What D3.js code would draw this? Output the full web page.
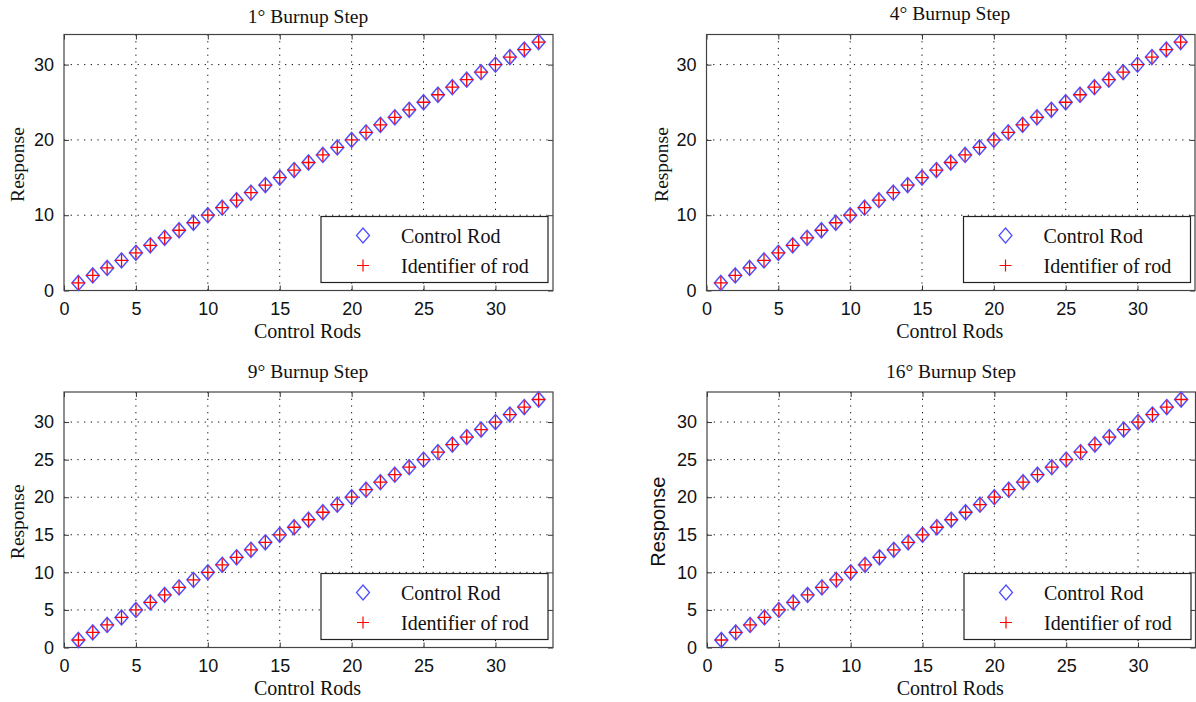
<!DOCTYPE html>
<html><head><meta charset="utf-8">
<script src="https://cdn.jsdelivr.net/npm/d3@7/dist/d3.min.js"></script>
<style>body{margin:0;background:#fff}svg{display:block}</style>
</head><body>
<svg id="c" width="1196" height="702"></svg>
<script>
const rods = d3.range(1, 34); // control rod indices 1..33
const titles = ["1° Burnup Step", "4° Burnup Step", "9° Burnup Step", "16° Burnup Step"];
const controlRod = [
  [1,2,3,4,5,6,7,8,9,10,11,12,13,14,15,16,17,18,19,20,21,22,23,24,25,26,27,28,29,30,31,32,33],
  [1,2,3,4,5,6,7,8,9,10,11,12,13,14,15,16,17,18,19,20,21,22,23,24,25,26,27,28,29,30,31,32,33],
  [1,2,3,4,5,6,7,8,9,10,11,12,13,14,15,16,17,18,19,20,21,22,23,24,25,26,27,28,29,30,31,32,33],
  [1,2,3,4,5,6,7,8,9,10,11,12,13,14,15,16,17,18,19,20,21,22,23,24,25,26,27,28,29,30,31,32,33]
];
const identifier = [
  [1,2,3,4,5,6,7,8,9,10,11,12,13,14,15,16,17,18,19,20,21,22,23,24,25,26,27,28,29,30,31,32,33],
  [1,2,3,4,5,6,7,8,9,10,11,12,13,14,15,16,17,18,19,20,21,22,23,24,25,26,27,28,29,30,31,32,33],
  [1,2,3,4,5,6,7,8,9,10,11,12,13,14,15,16,17,18,19,20,21,22,23,24,25,26,27,28,29,30,31,32,33],
  [1,2,3,4,5,6,7,8,9,10,11,12,13,14,15,16,17,18,19,20,21,22,23,24,25,26,27,28,29,30,31,32,33]
];
const xTicks = [0,5,10,15,20,25,30];
const yTicksTop = [0,10,20,30];
const yTicksBottom = [0,5,10,15,20,25,30];
const legendLabels = ["Control Rod", "Identifier of rod"];

const serif = "'Liberation Serif','Times New Roman',serif";
const sans = "'Liberation Sans',Arial,sans-serif";

const panels = [
  {x0:64, x1:553, y0:34.5, y1:290.5, yt:yTicksTop, tx:308, ty:23, yl:18, ylf:serif, yls:19.5},
  {x0:706.5, x1:1195, y0:34.5, y1:290.5, yt:yTicksTop, tx:950, ty:20, yl:662, ylf:serif, yls:19.5},
  {x0:64, x1:553, y0:392, y1:647.5, yt:yTicksBottom, tx:308, ty:378, yl:18, ylf:serif, yls:19.5},
  {x0:707, x1:1195.5, y0:392, y1:647.5, yt:yTicksBottom, tx:951, ty:378, yl:659, ylf:sans, yls:20}
];

const svg = d3.select("#c");

panels.forEach((p, i) => {
  const x = d3.scaleLinear().domain([0,34]).range([p.x0, p.x1]);
  const y = d3.scaleLinear().domain([0,34]).range([p.y1, p.y0]);
  const g = svg.append("g");

  // grid
  g.selectAll(".gx").data(xTicks.filter(t => t > 0)).enter().append("line")
    .attr("x1", d => x(d)).attr("x2", d => x(d)).attr("y1", p.y0).attr("y2", p.y1)
    .attr("stroke", "#000").attr("stroke-width", 1).attr("stroke-dasharray", "1.2,5.5");
  g.selectAll(".gy").data(p.yt.filter(t => t > 0)).enter().append("line")
    .attr("y1", d => y(d)).attr("y2", d => y(d)).attr("x1", p.x0).attr("x2", p.x1)
    .attr("stroke", "#000").attr("stroke-width", 1).attr("stroke-dasharray", "1.2,5.5");

  // axes (ticks inward)
  const ax = g.append("g").attr("transform", `translate(0,${p.y1})`)
    .call(d3.axisBottom(x).tickValues(xTicks).tickSizeInner(-5).tickSizeOuter(0).tickPadding(12));
  const axT = g.append("g").attr("transform", `translate(0,${p.y0})`)
    .call(d3.axisTop(x).tickValues(xTicks).tickSizeInner(-5).tickSizeOuter(0).tickFormat(""));
  const ay = g.append("g").attr("transform", `translate(${p.x0},0)`)
    .call(d3.axisLeft(y).tickValues(p.yt).tickSizeInner(-5).tickSizeOuter(0).tickPadding(10));
  const ayR = g.append("g").attr("transform", `translate(${p.x1},0)`)
    .call(d3.axisRight(y).tickValues(p.yt).tickSizeInner(-5).tickSizeOuter(0).tickFormat(""));
  [ax, axT, ay, ayR].forEach(a => {
    a.select(".domain").remove();
    a.selectAll("line").attr("stroke", "#333");
    a.selectAll("text").attr("font-family", sans).attr("font-size", 18).attr("fill", "#111");
  });
  g.append("rect").attr("x", p.x0).attr("y", p.y0).attr("width", p.x1 - p.x0).attr("height", p.y1 - p.y0)
    .attr("fill", "none").attr("stroke", "#444").attr("stroke-width", 1.2);

  // markers
  const diamond = (cx, cy) => `M${cx},${cy-7.5}L${cx+6.5},${cy}L${cx},${cy+7.5}L${cx-6.5},${cy}Z`;
  g.selectAll(".dm").data(rods.map((r, k) => [r, controlRod[i][k]])).enter().append("path")
    .attr("d", d => diamond(x(d[0]), y(d[1])))
    .attr("fill", "none").attr("stroke", "#5050ff").attr("stroke-width", 1.5);
  g.selectAll(".pl").data(rods.map((r, k) => [r, identifier[i][k]])).enter().append("path")
    .attr("d", d => { const cx = x(d[0]), cy = y(d[1]); return `M${cx-6.5},${cy}H${cx+6.5}M${cx},${cy-6.5}V${cy+6.5}`; })
    .attr("stroke", "#ff0000").attr("stroke-width", 1.3).attr("fill", "none");

  // legend
  const lx = p.x0 + 257, ly = p.y1 - 74;
  const lg = g.append("g").attr("transform", `translate(${lx},${ly})`);
  lg.append("rect").attr("width", 227).attr("height", 66).attr("fill", "#fff").attr("stroke", "#222").attr("stroke-width", 1.2);
  lg.append("path").attr("d", diamond(42, 19)).attr("fill", "none").attr("stroke", "#5050ff").attr("stroke-width", 1.3);
  lg.append("path").attr("d", "M36,49H48M42,43V55").attr("stroke", "#ff0000").attr("stroke-width", 1.2);
  lg.selectAll("text").data(legendLabels).enter().append("text")
    .attr("x", 80).attr("y", (d, k) => 26 + k * 30).text(d => d)
    .attr("font-family", serif).attr("font-size", 20).attr("fill", "#111");

  // titles & labels
  g.append("text").attr("x", p.tx).attr("y", p.ty).attr("text-anchor", "middle")
    .attr("font-family", serif).attr("font-size", 19.5).attr("fill", "#111").text(titles[i]);
  g.append("text").attr("x", (p.x0 + p.x1) / 2 - 1).attr("y", p.y1 + 47).attr("text-anchor", "middle")
    .attr("font-family", serif).attr("font-size", 20).attr("fill", "#111").text("Control Rods");
  g.append("text").attr("transform", `translate(${p.yl + 6},${(p.y0 + p.y1) / 2 + 2}) rotate(-90)`)
    .attr("text-anchor", "middle").attr("font-family", p.ylf).attr("font-size", p.yls).attr("fill", "#111").text("Response");
});
</script>
</body></html>
